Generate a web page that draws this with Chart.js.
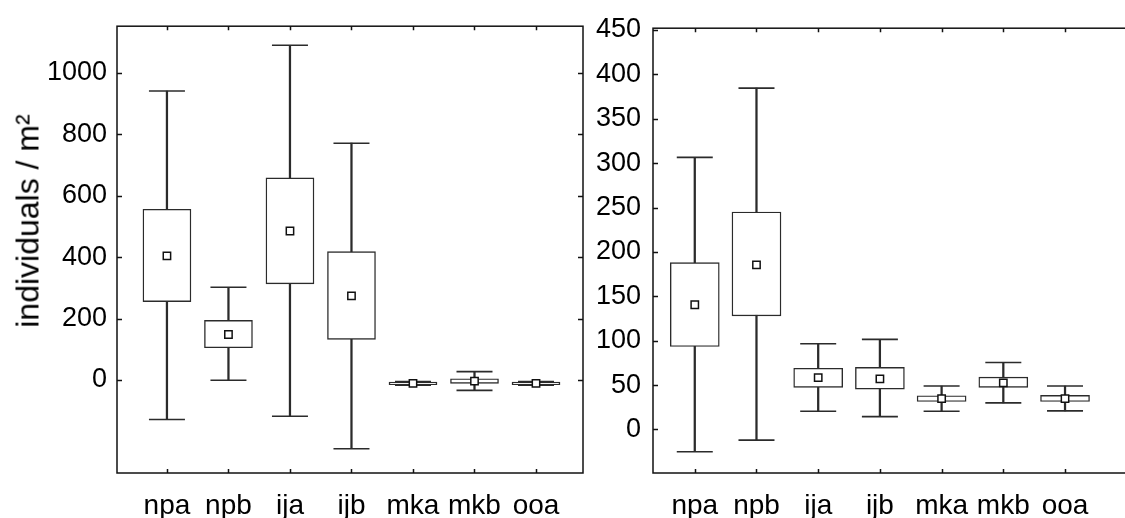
<!DOCTYPE html>
<html>
<head>
<meta charset="utf-8">
<script src="https://cdn.jsdelivr.net/npm/chart.js@4.4.1/dist/chart.umd.min.js"></script>
<style>
  html, body { margin: 0; padding: 0; background: #fff; overflow: hidden; }
  #wrap { position: relative; width: 1125px; height: 518px; overflow: hidden; }
  canvas { position: absolute; top: 0; display: block; }
  #leftChart { left: 0; }
  #rightChart { left: 584px; }
  #yTitle {
    position: absolute; left: 28px; top: 221px;
    transform: translate(-50%, -50%) rotate(-90deg);
    font: 32px "Liberation Sans", Arial, sans-serif; color: #000; white-space: nowrap;
  }
</style>
</head>
<body>
<div id="wrap">
  <canvas id="leftChart" width="584" height="518"></canvas>
  <canvas id="rightChart" width="560" height="518"></canvas>
  <div id="yTitle">individuals / m²</div>
</div>
<script>
// categories shared by both panels
const categories = ['npa', 'npb', 'ija', 'ijb', 'mka', 'mkb', 'ooa'];

// left panel
const leftMin  = [-129,  -1, -118, -224, -17, -34, -17];
const leftQ1   = [ 255, 105,  313,  132, -15, -11, -15];
const leftMean = [ 404, 148,  485,  274, -11,  -4, -11];
const leftQ3   = [ 556, 194,  658,  418,  -7,   4,  -7];
const leftMax  = [ 941, 302, 1090,  771,  -5,  27,  -5];
const leftTicks = [0, 200, 400, 600, 800, 1000];

// right panel
const rightMin  = [-25, -12, 20.5, 14.5, 20.5, 30,   21];
const rightQ1   = [93.5, 128, 47.5, 45.5, 31.5, 47.5, 31.5];
const rightMean = [140.5, 185.5, 58.5, 57, 34.7, 52.5, 34.7];
const rightQ3   = [188, 245, 69, 70, 38, 59, 38.5];
const rightMax  = [306.5, 384.5, 96.5, 101.5, 49, 75.5, 49];
const rightTicks = [0, 50, 100, 150, 200, 250, 300, 350, 400, 450];

const FONT = '"Liberation Sans", Arial, sans-serif';
const INK = '#2b2b2b';

// frame round the plot area + inward tick marks
const framePlugin = {
  id: 'frame',
  afterDraw(chart) {
    const { ctx, chartArea: a, scales: { x, y } } = chart;
    ctx.save();
    ctx.strokeStyle = '#111';
    ctx.lineWidth = 1.5;
    ctx.strokeRect(a.left, a.top, a.right - a.left, a.bottom - a.top);
    ctx.beginPath();
    y.ticks.forEach(t => {
      const py = Math.round(y.getPixelForValue(t.value)) + 0.5;
      ctx.moveTo(a.left, py); ctx.lineTo(a.left + 5, py);
      ctx.moveTo(a.right, py); ctx.lineTo(a.right - 5, py);
    });
    x.ticks.forEach(t => {
      const px = Math.round(x.getPixelForValue(t.value)) + 0.5;
      ctx.moveTo(px, a.top); ctx.lineTo(px, a.top + 4);
      ctx.moveTo(px, a.bottom); ctx.lineTo(px, a.bottom - 4);
    });
    ctx.stroke();
    ctx.restore();
  }
};

function boxChart(id, d, opt) {
  const pts = arr => arr.map((v, i) => ({ x: i, y: v }));
  const ranges = (lo, hi) => lo.map((v, i) => ({ x: i, y: [v, hi[i]] }));
  return new Chart(document.getElementById(id), {
    type: 'bar',
    data: {
      datasets: [
        { // mean marker
          type: 'scatter', data: pts(d.mean), order: 0,
          pointStyle: 'rect', pointRadius: 5.2, pointBackgroundColor: '#fff',
          pointBorderColor: '#111', pointBorderWidth: 1.5
        },
        { // box
          data: ranges(d.q1, d.q3), order: 1, grouped: false,
          barThickness: opt.boxW, backgroundColor: '#fff',
          borderColor: INK, borderWidth: 1.4, borderSkipped: false
        },
        { // caps
          type: 'scatter', data: pts(d.min).concat(pts(d.max)), order: 2,
          pointStyle: 'line', pointRadius: 18, pointBorderColor: INK, pointBorderWidth: 1.6
        },
        { // whisker
          data: ranges(d.min, d.max), order: 3, grouped: false,
          barThickness: 1.6, backgroundColor: INK, borderWidth: 0
        }
      ]
    },
    options: {
      responsive: false,
      animation: false,
      events: [],
      layout: { autoPadding: false, padding: { top: 22, right: opt.padRight, left: 0, bottom: 0 } },
      plugins: { legend: { display: false }, tooltip: { enabled: false } },
      scales: {
        x: {
          type: 'linear', min: opt.xMin, max: opt.xMax, offset: false,
          grid: { display: false, drawTicks: false, offset: false }, border: { display: false },
          afterBuildTicks: s => { s.ticks = categories.map((c, i) => ({ value: i })); },
          ticks: {
            callback: v => categories[v], autoSkip: false, maxRotation: 0,
            color: '#000', font: { family: FONT, size: 28 }, padding: 16
          },
          afterFit: s => { s.height = 45; }
        },
        y: {
          type: 'linear', min: opt.yMin, max: opt.yMax,
          grid: { display: false, drawTicks: false }, border: { display: false },
          afterBuildTicks: s => { s.ticks = opt.ticks.map(v => ({ value: v })); },
          ticks: {
            callback: v => String(v), color: '#000',
            font: { family: FONT, size: 27 }, padding: opt.tickPad
          },
          afterFit: s => { s.width = opt.yWidth; }
        }
      }
    },
    plugins: [framePlugin]
  });
}

boxChart('leftChart',
  { min: leftMin, q1: leftQ1, mean: leftMean, q3: leftQ3, max: leftMax },
  { xMin: -0.812, xMax: 6.764, yMin: -303, yMax: 1152, ticks: leftTicks,
    yWidth: 117, padRight: 1, tickPad: 10, boxW: 48 });

boxChart('rightChart',
  { min: rightMin, q1: rightQ1, mean: rightMean, q3: rightQ3, max: rightMax },
  { xMin: -0.677, xMax: 7.215, yMin: -49, yMax: 452, ticks: rightTicks,
    yWidth: 69, padRight: 4, tickPad: 12, boxW: 49 });
</script>
</body>
</html>
